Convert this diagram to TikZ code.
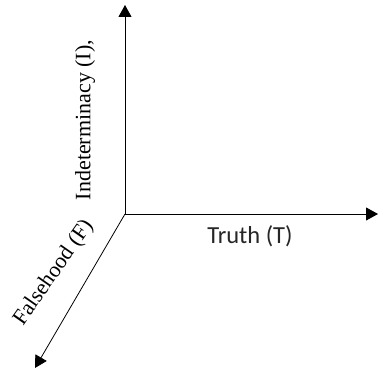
\documentclass[tikz,border=0pt]{standalone}
\usepackage{fontspec}
\setmainfont{Liberation Serif}
\newfontfamily\calibrifont{Carlito}
\usetikzlibrary{arrows.meta}
\tikzset{
  axis/.style={black, line width=0.8pt, -{Triangle[length=12pt,width=13pt]}},
  axlabel/.style={inner sep=0pt, font=\fontsize{22}{26}\selectfont}
}
\begin{document}
\begin{tikzpicture}[x=1pt,y=-1pt]
  \useasboundingbox (0,0) rectangle (378,371);
  \coordinate (O) at (125,214);
  \coordinate (Itip) at (125,5);
  \coordinate (Ttip) at (378,214);
  \coordinate (Ftip) at (35,368);
  \draw[axis] (O) -- (Itip);
  \draw[axis] (O) -- (Ttip);
  \draw[axis] (O) -- (Ftip);
  \node[axlabel, rotate=90] (ilabel) at (85,120) {Indeterminacy (I),};
  \node[axlabel, font=\calibrifont\fontsize{24.5}{28}\selectfont, text=black!85] (tlabel) at (250,236) {Truth (T)};
  \node[axlabel, rotate=55] (flabel) at (54,273) {Falsehood (F)};
\end{tikzpicture}
\end{document}
